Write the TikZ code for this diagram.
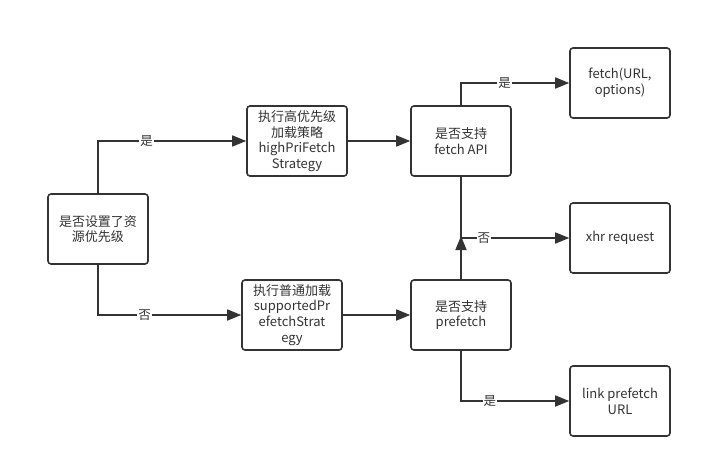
\documentclass[tikz,border=0pt]{standalone}
\usepackage{fontspec}
\setmainfont{Noto Sans CJK SC}
\usetikzlibrary{arrows.meta}
\definecolor{ink}{HTML}{333333}
\begin{document}
\begin{tikzpicture}[x=1pt,y=-1pt,
  box/.style={draw=ink, line width=1.6pt, rounded corners=3pt, fill=white,
    minimum width=100pt, minimum height=70pt, align=center, text=ink,
    font=\fontsize{13pt}{15.7pt}\selectfont, inner sep=1pt},
  conn/.style={draw=ink, line width=1.6pt, -{Triangle[length=14pt,width=11pt]}},
  lab/.style={fill=white, text=ink, inner sep=1pt, font=\fontsize{12.5pt}{14pt}\selectfont}]
\useasboundingbox (0,0) rectangle (702,468);
\node[box] (A) at (98,229) {是否设置了资\\源优先级};
\node[box] (B) at (297,141) {执行高优先级\\加载策略\\highPriFetch\\Strategy};
\node[box] (C) at (292,315) {执行普通加载\\supportedPr\\efetchStrat\\egy};
\node[box] (D) at (461,141) {是否支持\\fetch API};
\node[box] (E) at (461,315) {是否支持\\prefetch};
\node[box] (F) at (620,83) {fetch(URL,\\options)};
\node[box] (G) at (620,238) {xhr request};
\node[box] (H) at (620,401) {link prefetch\\URL};
\coordinate (j) at (461,236);
\draw[conn] (A.north) |- node[lab, pos=0.664] (l1) {是} (B.west);
\draw[conn] (A.south) |- node[lab, pos=0.663] (l2) {否} (C.west);
\draw[conn] (B.east) -- (D.west);
\draw[conn] (C.east) -- (E.west);
\draw[conn] (D.north) |- node[lab, pos=0.702] (l3) {是} (F.west);
\draw[conn] (D.south) |- node[lab, pos=0.606] (l4) {否} (G.west);
\draw[conn] (E.north) -- (j);
\draw[conn] (E.south) |- node[lab, pos=0.633] (l5) {是} (H.west);
\end{tikzpicture}
\end{document}
